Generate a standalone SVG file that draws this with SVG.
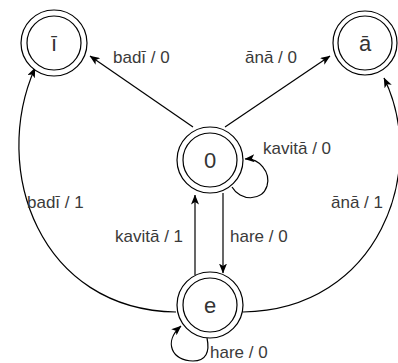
<svg xmlns="http://www.w3.org/2000/svg" width="398" height="363" viewBox="0 0 398 363">
<defs>
<style>
.c{fill:#fff;stroke:#000;stroke-width:1.2}
.e{fill:none;stroke:#000;stroke-width:1.2}
.n{font-family:"Liberation Sans",Arial,Helvetica,sans-serif;font-size:22px;fill:#333;text-anchor:middle}
.l{font-family:"Liberation Sans",Arial,Helvetica,sans-serif;font-size:17px;fill:#3a3a3a}
</style>
<marker id="a" viewBox="0 0 10 8" refX="9.5" refY="4" markerWidth="10" markerHeight="8" markerUnits="userSpaceOnUse" orient="auto">
<path d="M0,0 L10,4 L0,8 L2.5,4 z" fill="#000"/>
</marker>
</defs>
<g id="edges">
<path class="e" d="M193,127 L90,56" marker-end="url(#a)"/>
<path class="e" d="M225,127 L330,56" marker-end="url(#a)"/>
<path class="e" d="M232,187 C240,201 262,202 267,186 C271,172 259,158 245,159" marker-end="url(#a)"/>
<path class="e" d="M223,193 L223,273" marker-end="url(#a)"/>
<path class="e" d="M195,275 L195,195" marker-end="url(#a)"/>
<path class="e" d="M207,338 C210,352 206,361 193,361 C172,361 163,342 181,326" marker-end="url(#a)"/>
<path class="e" d="M176,312 C40,310 -10,170 35,68" marker-end="url(#a)"/>
<path class="e" d="M243,312 C379,310 429,170 384,78" marker-end="url(#a)"/>
<text class="l" x="113" y="63">badī / 0</text>
<text class="l" x="245" y="63">ānā / 0</text>
<text class="l" x="263" y="154">kavitā / 0</text>
<text class="l" x="115" y="242">kavitā / 1</text>
<text class="l" x="230" y="242">hare / 0</text>
<text class="l" x="27" y="208">badī / 1</text>
<text class="l" x="331" y="208">ānā / 1</text>
<text class="l" x="210" y="358">hare / 0</text>
</g>
<g id="node-i">
<circle class="c" cx="54" cy="43" r="33"/>
<circle class="c" cx="54" cy="43" r="27"/>
<text class="n" x="54" y="51">ī</text>
</g>
<g id="node-a">
<circle class="c" cx="365" cy="43" r="32"/>
<circle class="c" cx="365" cy="43" r="27"/>
<text class="n" x="365" y="51">ā</text>
</g>
<g id="node-0">
<circle class="c" cx="210" cy="160" r="33"/>
<circle class="c" cx="210" cy="160" r="27"/>
<text class="n" x="210" y="168">0</text>
</g>
<g id="node-e">
<circle class="c" cx="210" cy="305" r="33"/>
<circle class="c" cx="210" cy="305" r="27"/>
<text class="n" x="210" y="313">e</text>
</g>
</svg>
